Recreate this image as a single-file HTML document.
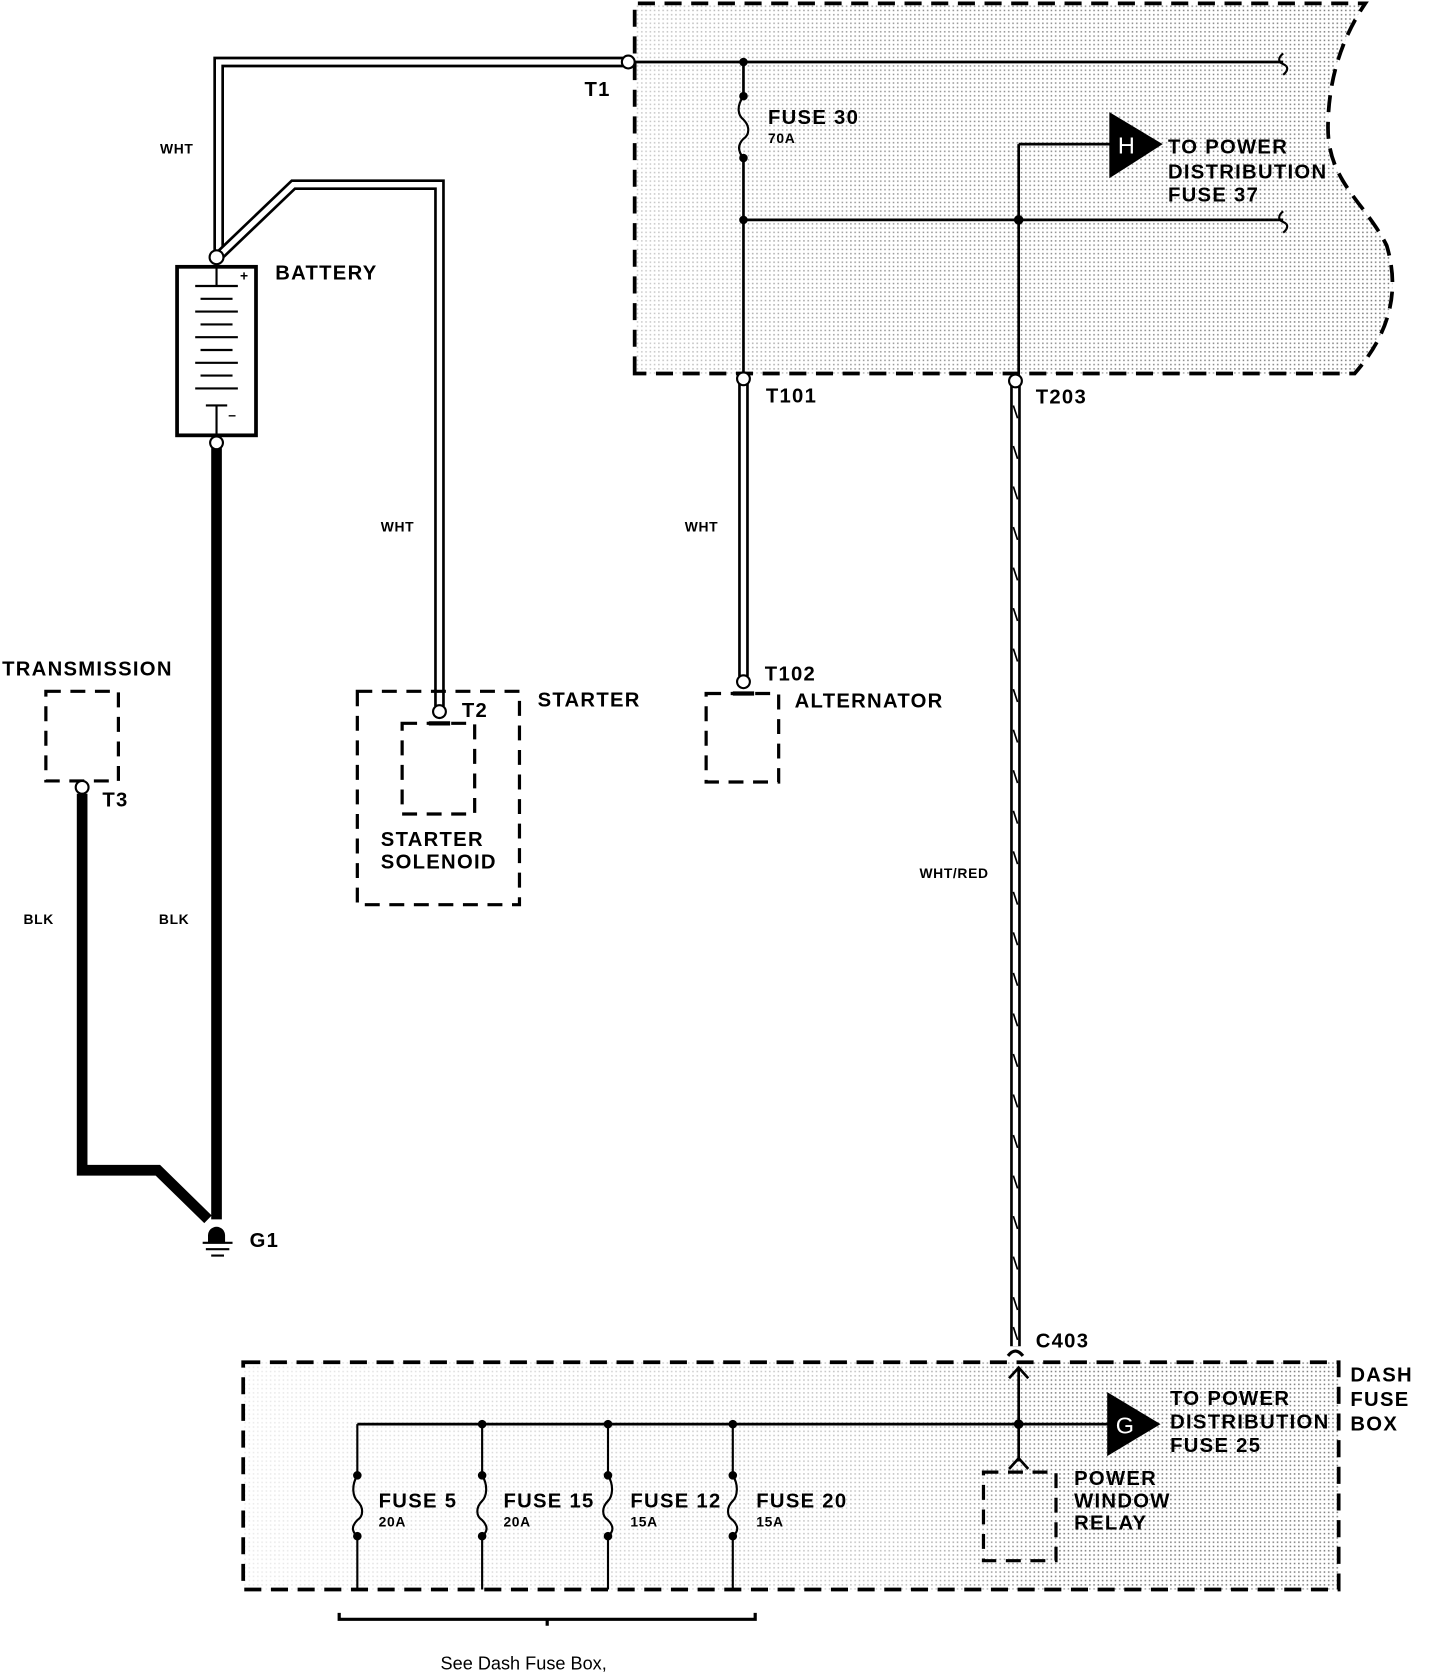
<!DOCTYPE html>
<html><head><meta charset="utf-8"><style>
html,body{margin:0;padding:0;background:#fff;}
svg{display:block;}
text{font-family:"Liberation Sans",sans-serif;font-weight:bold;fill:#000;}
.l{font-size:19px;letter-spacing:1.2px;}
.s{font-size:13px;letter-spacing:0.6px;}
</style></head><body>
<svg width="1440" height="1676" viewBox="0 0 1350 1571" xmlns="http://www.w3.org/2000/svg">
<defs>
<pattern id="dots" width="4" height="4" patternUnits="userSpaceOnUse">
<rect width="4" height="4" fill="#fff"/><rect x="1" y="1" width="1.4" height="1.4" fill="#777"/>
</pattern>
<linearGradient id="fadeB" x1="0" x2="1" y1="0" y2="0">
<stop offset="0" stop-color="#fff" stop-opacity="0.85"/>
<stop offset="0.6" stop-color="#fff" stop-opacity="0.5"/>
<stop offset="0.75" stop-color="#fff" stop-opacity="0"/>
<stop offset="1" stop-color="#fff" stop-opacity="0"/>
</linearGradient>
<linearGradient id="fadeT" x1="0" x2="1" y1="0" y2="0">
<stop offset="0" stop-color="#fff" stop-opacity="0.6"/>
<stop offset="0.3" stop-color="#fff" stop-opacity="0.2"/>
<stop offset="1" stop-color="#fff" stop-opacity="0"/>
</linearGradient>
</defs>

<!-- top box -->
<path d="M595,350 L595,3 L1280,3 C1255,40 1245,80 1245,120 C1245,170 1280,190 1300,230 C1312,270 1305,310 1270,350 Z" fill="url(#dots)"/>
<path d="M595,350 L595,3 L1280,3 C1255,40 1245,80 1245,120 C1245,170 1280,190 1300,230 C1312,270 1305,310 1270,350 Z" fill="url(#fadeT)"/>
<path d="M595,350 L595,3 L1280,3 C1255,40 1245,80 1245,120 C1245,170 1280,190 1300,230 C1312,270 1305,310 1270,350 Z" fill="none" stroke="#000" stroke-width="3.5" stroke-dasharray="16 9"/>

<!-- bottom box -->
<rect x="228" y="1277" width="1027" height="213" fill="url(#dots)"/>
<rect x="228" y="1277" width="1027" height="213" fill="url(#fadeB)"/>
<rect x="228" y="1277" width="1027" height="213" fill="none" stroke="#000" stroke-width="3.5" stroke-dasharray="16 9"/>

<g fill="none" stroke="#000">
<path d="M589,58 L205,58 L205,240" stroke-width="10"/>
<path d="M589,58 L205,58 L205,240" stroke="#fff" stroke-width="5"/>
<path d="M205,240 L275,173 L412,173 L412,662" stroke-width="10"/>
<path d="M205,240 L275,173 L412,173 L412,662" stroke="#fff" stroke-width="5"/>
<path d="M697,356 L697,634" stroke-width="10"/>
<path d="M697,356 L697,634" stroke="#fff" stroke-width="5"/>
<path d="M952,358 L952,1262" stroke-width="10"/>
<path d="M952,358 L952,1262" stroke="#fff" stroke-width="5"/>

<path d="M595,58 L1203,58" stroke-width="2.5"/>
<path d="M1203,50 C1198,54 1198,58 1203,60 C1208,62 1208,66 1203,70" stroke-width="2"/>
<path d="M697,58 L697,90 M697,148 L697,350" stroke-width="2.5"/>
<path d="M697,90 C690,100 692,108 697,112 C703,118 703,126 697,130 C691,136 692,142 697,148" stroke-width="2"/>
<path d="M697,206 L1203,206" stroke-width="2.5"/>
<path d="M1203,198 C1198,202 1198,206 1203,208 C1208,210 1208,214 1203,218" stroke-width="2"/>
<path d="M955,135 L1042,135 M955,135 L955,352" stroke-width="2.5"/>

<rect x="166" y="250" width="74" height="158" stroke-width="3.5" fill="#fff"/>
<path d="M203,250 L203,268 M203,380 L203,408" stroke-width="2"/>
<path d="M183,268 L223,268 M188,280 L218,280 M183,292 L223,292 M188,304 L218,304 M183,316 L223,316 M188,328 L218,328 M183,340 L223,340 M188,352 L218,352 M183,364 L223,364 M193,380 L213,380" stroke-width="2"/>

<path d="M203,420 L203,1143" stroke-width="10"/>
<path d="M77,744 L77,1097 L148,1097 L195,1143" stroke-width="10"/>

<path d="M190,1165 L218,1165 M193,1171 L215,1171 M198,1177 L210,1177" stroke-width="2"/>

<rect x="43" y="648" width="68" height="84" stroke-width="3" stroke-dasharray="14 9"/>
<rect x="335" y="648" width="152" height="200" stroke-width="3" stroke-dasharray="14 9"/>
<rect x="377" y="678" width="68" height="85" stroke-width="3" stroke-dasharray="14 9"/>
<path d="M402,678 L422,678" stroke-width="4"/>
<rect x="662" y="650" width="68" height="83" stroke-width="3" stroke-dasharray="14 9"/>
<path d="M687,650 L707,650" stroke-width="4"/>
<rect x="922" y="1380" width="68" height="83" stroke-width="3" stroke-dasharray="14 9"/>

<path d="M335,1335 L1042,1335" stroke-width="2.5"/>
<path d="M335,1335 L335,1383 M335,1440 L335,1490 M452,1335 L452,1383 M452,1440 L452,1490 M570,1335 L570,1383 M570,1440 L570,1490 M687,1335 L687,1383 M687,1440 L687,1490" stroke-width="2"/>
<path d="M335,1383 C329,1393 331,1403 335,1407 C341,1413 341,1421 335,1425 C329,1431 330,1436 335,1440" stroke-width="2"/>
<path d="M452,1383 C458,1393 456,1403 452,1407 C446,1413 446,1421 452,1425 C458,1431 457,1436 452,1440" stroke-width="2"/>
<path d="M570,1383 C576,1393 574,1403 570,1407 C564,1413 564,1421 570,1425 C576,1431 575,1436 570,1440" stroke-width="2"/>
<path d="M687,1383 C693,1393 691,1403 687,1407 C681,1413 681,1421 687,1425 C693,1431 692,1436 687,1440" stroke-width="2"/>
<path d="M955,1282 L955,1370" stroke-width="2.5"/>
<path d="M945,1271 Q952,1262 959,1271" stroke-width="3"/>
<path d="M946,1292 L955,1282 L964,1292" stroke-width="2.5"/>
<path d="M946,1377 L955,1367 L964,1377" stroke-width="2.5"/>

<path d="M318,1512 L318,1518 L708,1518 L708,1512 M513,1518 L513,1524" stroke-width="3"/>
</g>

<g stroke="#000" stroke-width="1.6" fill="none">
<path d="M950,380 L954,392 M950,418 L954,430 M950,456 L954,468 M950,494 L954,506 M950,532 L954,544 M950,570 L954,582 M950,608 L954,620 M950,646 L954,658 M950,684 L954,696 M950,722 L954,734 M950,760 L954,772 M950,798 L954,810 M950,836 L954,848 M950,874 L954,886 M950,912 L954,924 M950,950 L954,962 M950,988 L954,1000 M950,1026 L954,1038 M950,1064 L954,1076 M950,1102 L954,1114 M950,1140 L954,1152 M950,1178 L954,1190 M950,1216 L954,1228 M950,1244 L954,1256"/>
</g>

<g fill="#000">
<circle cx="697" cy="58" r="4"/><circle cx="697" cy="90" r="4"/><circle cx="697" cy="148" r="4"/>
<circle cx="697" cy="206" r="4"/><circle cx="955" cy="206" r="4.5"/>
<circle cx="335" cy="1383" r="4"/><circle cx="335" cy="1440" r="4"/>
<circle cx="452" cy="1335" r="4"/><circle cx="452" cy="1383" r="4"/><circle cx="452" cy="1440" r="4"/>
<circle cx="570" cy="1335" r="4"/><circle cx="570" cy="1383" r="4"/><circle cx="570" cy="1440" r="4"/>
<circle cx="687" cy="1335" r="4"/><circle cx="687" cy="1383" r="4"/><circle cx="687" cy="1440" r="4"/>
<circle cx="955" cy="1335" r="4.5"/>
<path d="M195,1165 L195,1158 A8,8 0 0 1 211,1158 L211,1165 Z"/>
<polygon points="1040,105 1040,167 1090,135"/>
<polygon points="1038,1305 1038,1365 1088,1335"/>
</g>

<g fill="#fff" stroke="#000" stroke-width="2">
<circle cx="589" cy="58" r="6"/>
<circle cx="203" cy="241" r="6.5"/>
<circle cx="203" cy="415" r="6"/>
<circle cx="697" cy="355" r="6"/>
<circle cx="952" cy="357" r="6"/>
<circle cx="697" cy="639" r="6"/>
<circle cx="412" cy="667" r="6"/>
<circle cx="77" cy="738" r="6"/>
</g>

<text x="1048" y="144" style="fill:#fff;font-weight:normal;font-size:22px">H</text>
<text x="1046" y="1344" style="fill:#fff;font-weight:normal;font-size:22px">G</text>
<text x="225" y="263" class="s">+</text>
<text x="214" y="393" class="s">–</text>

<text x="548" y="90" class="l">T1</text>
<text x="150" y="144" class="s">WHT</text>
<text x="258" y="262" class="l">BATTERY</text>
<text x="720" y="116" class="l">FUSE 30</text>
<text x="720" y="134" class="s">70A</text>
<text x="1095" y="144" class="l">TO POWER</text>
<text x="1095" y="167" class="l">DISTRIBUTION</text>
<text x="1095" y="189" class="l">FUSE 37</text>
<text x="718" y="377" class="l">T101</text>
<text x="971" y="378" class="l">T203</text>
<text x="357" y="498" class="s">WHT</text>
<text x="642" y="498" class="s">WHT</text>
<text x="2" y="633" class="l">TRANSMISSION</text>
<text x="504" y="662" class="l">STARTER</text>
<text x="433" y="672" class="l">T2</text>
<text x="717" y="638" class="l">T102</text>
<text x="745" y="663" class="l">ALTERNATOR</text>
<text x="96" y="756" class="l">T3</text>
<text x="357" y="793" class="l">STARTER</text>
<text x="357" y="814" class="l">SOLENOID</text>
<text x="862" y="823" class="s">WHT/RED</text>
<text x="22" y="866" class="s">BLK</text>
<text x="149" y="866" class="s">BLK</text>
<text x="234" y="1169" class="l">G1</text>
<text x="971" y="1263" class="l">C403</text>
<text x="1266" y="1295" class="l">DASH</text>
<text x="1266" y="1318" class="l">FUSE</text>
<text x="1266" y="1341" class="l">BOX</text>
<text x="1097" y="1317" class="l">TO POWER</text>
<text x="1097" y="1339" class="l">DISTRIBUTION</text>
<text x="1097" y="1361" class="l">FUSE 25</text>
<text x="1007" y="1392" class="l">POWER</text>
<text x="1007" y="1413" class="l">WINDOW</text>
<text x="1007" y="1434" class="l">RELAY</text>
<text x="355" y="1413" class="l">FUSE 5</text>
<text x="355" y="1431" class="s">20A</text>
<text x="472" y="1413" class="l">FUSE 15</text>
<text x="472" y="1431" class="s">20A</text>
<text x="591" y="1413" class="l">FUSE 12</text>
<text x="591" y="1431" class="s">15A</text>
<text x="709" y="1413" class="l">FUSE 20</text>
<text x="709" y="1431" class="s">15A</text>
<text x="413" y="1565" style="font-weight:normal;font-size:17px">See Dash Fuse Box,</text>
</svg>
</body></html>
